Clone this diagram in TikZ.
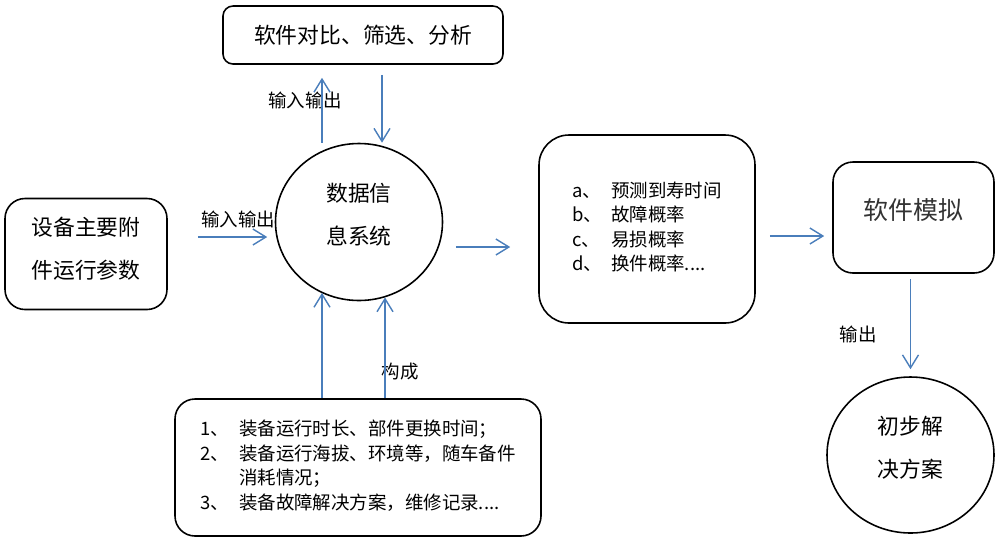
\documentclass[tikz,border=0pt]{standalone}
\usepackage{fontspec}
\setmainfont{Noto Sans CJK SC}
\usetikzlibrary{positioning, arrows.meta, shapes.geometric}
\definecolor{flowblue}{HTML}{4A7EBB}

\begin{document}
\begin{tikzpicture}[
    every node/.style={font=\fontsize{12.4}{24.5}\selectfont},
    box/.style={draw, line width=0.9pt, rounded corners=#1, align=center, inner sep=0pt},
    box/.default=4mm,
    blob/.style={draw, ellipse, line width=0.9pt, minimum width=3.34cm, minimum height=3.14cm, align=center, inner sep=0pt, text depth=9.5pt},
    lbl/.style={font=\fontsize{10.5}{12}\selectfont},
    flow/.style={->, draw=flowblue, line width=0.8pt},
    >={Straight Barb[length=2.6mm, width=3.2mm]},
  ]
  \useasboundingbox (0,0) rectangle (20,-10.84);

  \node[box=2mm, minimum width=5.6cm, minimum height=1.16cm] (ana) at (7.26,-0.70) {软件对比、筛选、分析};
  \node[box, minimum width=3.24cm, minimum height=2.22cm, text depth=7pt] (para) at (1.72,-5.08) {设备主要附\\件运行参数};
  \node[blob] (dis) at (7.18,-4.44) {数据信\\息系统};
  \node[box=6mm, minimum width=4.32cm, minimum height=3.76cm, font=\fontsize{10.5}{14}\selectfont] (res) at (12.94,-4.58) {\begin{tabular}{@{}p{0.78cm}@{}l@{}}
      a、 & 预测到寿时间\\
      b、 & 故障概率\\
      c、 & 易损概率\\
      d、 & 换件概率....
    \end{tabular}};
  \node[box, minimum width=3.22cm, minimum height=2.22cm, font=\fontsize{14.2}{17}\selectfont, text=black!80, text depth=10pt] (sim) at (18.27,-4.35) {软件模拟};
  \node[blob, minimum height=3.12cm] (sol) at (18.21,-9.10) {初步解\\决方案};

  % records feeding the system
  \node[box, minimum width=7.32cm, minimum height=2.74cm, font=\fontsize{10.5}{14}\selectfont] (rec) at (7.16,-9.35) {\begin{tabular}{@{}p{0.78cm}@{}l@{}}
      1、 & 装备运行时长、部件更换时间；\\
      2、 & 装备运行海拔、环境等，随车备件\\
          & 消耗情况；\\
      3、 & 装备故障解决方案，维修记录....
    \end{tabular}};

  \node[lbl] (io1) at (4.76,-4.38) {输入输出};
  \node[lbl] (io2) at (6.10,-2.00) {输入输出};
  \node[lbl] (out) at (17.16,-6.68) {输出};
  \node[lbl] (form) at (8.00,-7.44) {构成};

  \draw[flow, shorten <=6mm, shorten >=1.5mm] (para.east |- 0,-4.74) -- (dis.west |- 0,-4.74);
  \draw[flow, shorten <=2mm] ([xshift=3.8mm]ana.south) -- ([xshift=3.8mm]ana.south |- dis.north);
  \draw[flow, shorten >=2.6mm] ([xshift=-8.2mm]ana.south |- dis.north) -- ([xshift=-8.2mm]ana.south);
  \draw[flow, shorten <=2.5mm, shorten >=5.6mm] (dis.east |- 0,-4.94) -- (res.west |- 0,-4.94);
  \draw[flow, shorten <=2.8mm, shorten >=1.6mm] (res.east |- 0,-4.72) -- (sim.west |- 0,-4.72);
  \draw[flow, shorten <=1mm, shorten >=1.4mm] (sol.north |- sim.south) -- (sol.north);
  \draw[flow] ([xshift=-7.2mm]rec.north) -- ([xshift=-7.2mm]rec.north |- dis.242);
  \draw[flow] ([xshift=5.4mm]rec.north) -- ([xshift=5.4mm]rec.north |- dis.289);
\end{tikzpicture}
\end{document}
